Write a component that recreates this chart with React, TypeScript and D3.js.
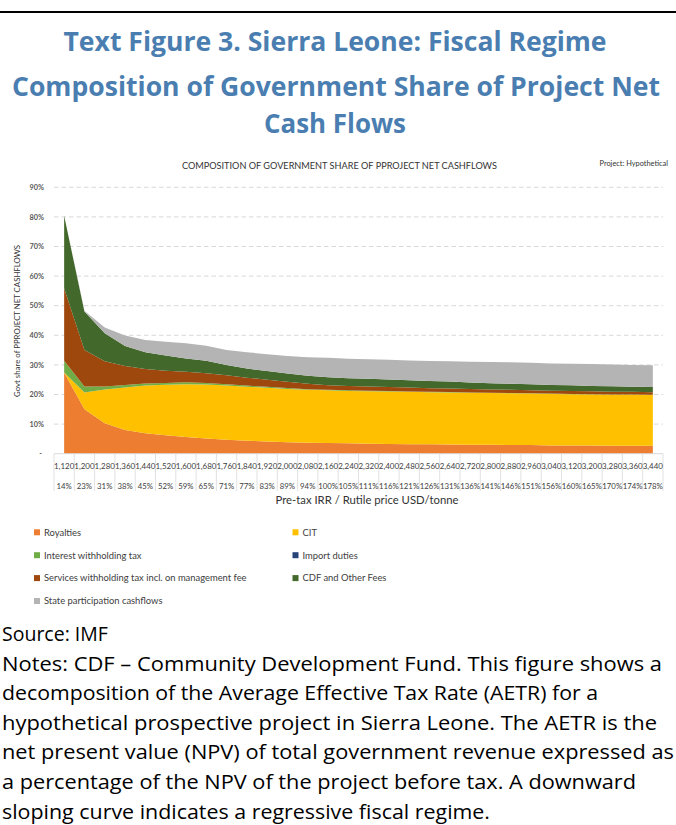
import React from "react";
import * as d3 from "d3";

const PRICE_LABELS = ["1,120","1,200","1,280","1,360","1,440","1,520","1,600","1,680","1,760","1,840","1,920","2,000","2,080","2,160","2,240","2,320","2,400","2,480","2,560","2,640","2,720","2,800","2,880","2,960","3,040","3,120","3,200","3,280","3,360","3,440"];
const IRR_LABELS = ["14%","23%","31%","38%","45%","52%","59%","65%","71%","77%","83%","89%","94%","100%","105%","111%","116%","121%","126%","131%","136%","141%","146%","151%","156%","160%","165%","170%","174%","178%"];

const ROYALTIES = [27.4,15.0,10.3,8.0,6.9,6.2,5.6,5.1,4.7,4.4,4.1,3.9,3.7,3.6,3.5,3.4,3.3,3.2,3.2,3.1,3.0,3.0,2.9,2.9,2.8,2.8,2.8,2.7,2.7,2.7];
const CIT = [0.0,5.7,11.4,14.4,16.1,17.1,17.9,18.3,18.3,18.2,18.2,18.0,17.9,17.8,17.7,17.7,17.7,17.7,17.6,17.6,17.6,17.5,17.5,17.4,17.4,17.3,17.2,17.2,17.2,17.1];
const INTEREST = [4.0,2.0,1.0,0.8,0.7,0.6,0.6,0.5,0.5,0.4,0.3,0.3,0.2,0.2,0.2,0.2,0.15,0.15,0.15,0.15,0.1,0.1,0.1,0.1,0.1,0.1,0.1,0.1,0.1,0.1];
const IMPORT_DUTIES = [0,0,0,0,0,0,0,0,0,0,0,0,0,0,0,0,0,0,0,0,0,0,0,0,0,0,0,0,0,0];
const SERVICES = [24.5,12.3,8.5,6.4,4.9,4.1,3.6,3.3,3.0,2.7,2.4,2.1,1.8,1.5,1.45,1.4,1.35,1.3,1.2,1.2,1.15,1.1,1.1,1.05,1.0,1.0,1.0,0.95,0.9,0.9];
const CDF = [24.5,13.0,9.5,6.8,5.7,5.2,4.5,4.2,3.5,3.1,2.9,2.8,2.7,2.7,2.65,2.6,2.55,2.5,2.4,2.3,2.2,2.1,2.0,2.0,1.9,1.9,1.8,1.8,1.7,1.7];
const STATE = [0,0.3,1.9,3.5,4.1,4.6,5.1,5.1,5.0,5.5,5.7,5.9,6.3,6.6,6.6,6.6,6.65,6.65,6.75,6.85,7.05,7.2,7.3,7.25,7.3,7.3,7.4,7.35,7.4,7.4];

const SERIES_KEYS = ["royalties","cit","interest","imports","services","cdf","state"];
const SERIES_NAMES = ["Royalties","CIT","Interest withholding tax","Import duties","Services withholding tax incl. on management fee","CDF and Other Fees","State participation cashflows"];
const SERIES_COLORS = ["#ED7D31","#FFC000","#70AD47","#264478","#9E480E","#43682B","#B4B4B4"];
const Y_TICKS = [0,10,20,30,40,50,60,70,80,90];

const TITLE_LINES = ["Text Figure 3. Sierra Leone: Fiscal Regime","Composition of Government Share of Project Net","Cash Flows"];
const NOTES_LINES = [
  "Source: IMF",
  "Notes: CDF \u2013 Community Development Fund. This figure shows a",
  "decomposition of the Average Effective Tax Rate (AETR) for a",
  "hypothetical prospective project in Sierra Leone. The AETR is the",
  "net present value (NPV) of total government revenue expressed as",
  "a percentage of the NPV of the project before tax. A downward",
  "sloping curve indicates a regressive fiscal regime."
];
const NOTES_WIDTHS = [0,660,596,655,672,634,488];

export default function App() {
  const W = 676, H = 825;
  const left = 54, right = 663, y0 = 453.7, yTop = 187.3;
  const idx = PRICE_LABELS.map((_, i) => i);
  const x = d3.scaleBand<number>().domain(idx).range([left, right]).padding(0);
  const bw = x.bandwidth();
  const cx = (i: number) => (x(i) as number) + bw / 2;
  const y = d3.scaleLinear().domain([0, 90]).range([y0, yTop]);

  const rows = idx.map((i) => ({
    i,
    royalties: ROYALTIES[i],
    cit: CIT[i],
    interest: INTEREST[i],
    imports: IMPORT_DUTIES[i],
    services: SERVICES[i],
    cdf: CDF[i],
    state: STATE[i],
  }));
  const stacked = d3.stack<any>().keys(SERIES_KEYS)(rows);
  const area = d3
    .area<any>()
    .x((d) => cx(d.data.i))
    .y0((d) => y(d[0]))
    .y1((d) => y(d[1]));

  const chartFont = "Lato, 'Open Sans', sans-serif";
  const textFont = "'Open Sans', 'Noto Sans', sans-serif";

  return (
    <svg width={W} height={H} style={{ position: "absolute", left: 0, top: 0, background: "#fff" }}>
      <rect x={0} y={0} width={W} height={H} fill="#fff" />
      <line x1={0} x2={W} y1={12} y2={12} stroke="#000" strokeWidth={2} />

      {/* Titles */}
      <g fontFamily={textFont} fontWeight={700} fill="#4A7EB1" fontSize={26} textAnchor="middle">
        <text x={335} y={51} textLength={543} lengthAdjust="spacingAndGlyphs">{TITLE_LINES[0]}</text>
        <text x={336} y={96} textLength={648} lengthAdjust="spacingAndGlyphs">{TITLE_LINES[1]}</text>
        <text x={335} y={133} textLength={142} lengthAdjust="spacingAndGlyphs">{TITLE_LINES[2]}</text>
      </g>

      {/* chart title */}
      <text x={339.5} y={169} fontFamily={chartFont} fontSize={8.6} fill="#333" textAnchor="middle" textLength={315} lengthAdjust="spacingAndGlyphs">
        COMPOSITION OF GOVERNMENT SHARE OF PPROJECT NET CASHFLOWS
      </text>
      <text x={668} y={166} fontFamily={chartFont} fontSize={7.4} fill="#333" textAnchor="end">
        Project: Hypothetical
      </text>

      {/* gridlines */}
      {Y_TICKS.filter((t) => t > 0).map((t) => (
        <line key={t} x1={left} x2={right} y1={y(t)} y2={y(t)} stroke="#D4D4D4" strokeWidth={0.9} strokeDasharray="4.5,3" />
      ))}

      {/* areas */}
      {stacked.map((s, k) => (
        <path key={k} d={area(s) || ""} fill={SERIES_COLORS[k]} />
      ))}

      {/* y tick labels */}
      <g fontFamily={chartFont} fontSize={7.3} fill="#595959" fontWeight={700} textAnchor="end">
        {Y_TICKS.map((t) => (
          <text key={t} x={t === 0 ? 42 : 44} y={y(t) + 2.6}>{t === 0 ? "-" : `${t}%`}</text>
        ))}
      </g>

      {/* y axis title */}
      <text
        transform={`translate(20,${321}) rotate(-90)`}
        fontFamily={chartFont}
        fontSize={8}
        fill="#333"
        textAnchor="middle"
        textLength={152}
        lengthAdjust="spacingAndGlyphs"
      >
        Govt share of PPROJECT NET CASHFLOWS
      </text>

      {/* x axis multi-level */}
      <line x1={left} x2={right} y1={y0} y2={y0} stroke="#D9D9D9" strokeWidth={1} />
      {idx.concat([idx.length]).map((i) => {
        const xx = i < idx.length ? (x(i) as number) : right;
        return <line key={`v${i}`} x1={xx} x2={xx} y1={y0} y2={491} stroke="#D9D9D9" strokeWidth={0.8} />;
      })}
      <g fontFamily={chartFont} fontSize={8} fill="#404040" textAnchor="middle">
        {PRICE_LABELS.map((p, i) => (
          <text key={`p${i}`} x={cx(i)} y={469} textLength={20.3} lengthAdjust="spacingAndGlyphs">{p}</text>
        ))}
      </g>
      <g fontFamily={chartFont} fontSize={7.8} fill="#404040" textAnchor="middle">
        {IRR_LABELS.map((p, i) => (
          <text key={`r${i}`} x={cx(i)} y={489}>{p}</text>
        ))}
      </g>
      <text x={367} y={504} fontFamily={chartFont} fontSize={11} fill="#333" textAnchor="middle" textLength={183} lengthAdjust="spacingAndGlyphs">
        Pre-tax IRR / Rutile price USD/tonne
      </text>

      {/* legend */}
      <g fontFamily={chartFont} fontSize={9.4} fill="#404040">
        {SERIES_NAMES.map((n, k) => {
          const col = k % 2;
          const row = Math.floor(k / 2);
          const lx = col === 0 ? 34 : 292.5;
          const ly = 532.3 + row * 22.9;
          return (
            <g key={n}>
              <rect x={lx} y={ly - 3} width={6} height={6} fill={SERIES_COLORS[k]} />
              <text x={lx + 10} y={ly + 3.3}>{n}</text>
            </g>
          );
        })}
      </g>

      {/* notes */}
      <g fontFamily={textFont} fontSize={19.5} fill="#000">
        {NOTES_LINES.map((l, i) => (
          <text
            key={i}
            x={2}
            y={641 + i * 29.6}
            {...(NOTES_WIDTHS[i] > 0 ? { textLength: NOTES_WIDTHS[i], lengthAdjust: "spacingAndGlyphs" } : {})}
          >
            {l}
          </text>
        ))}
      </g>
    </svg>
  );
}
